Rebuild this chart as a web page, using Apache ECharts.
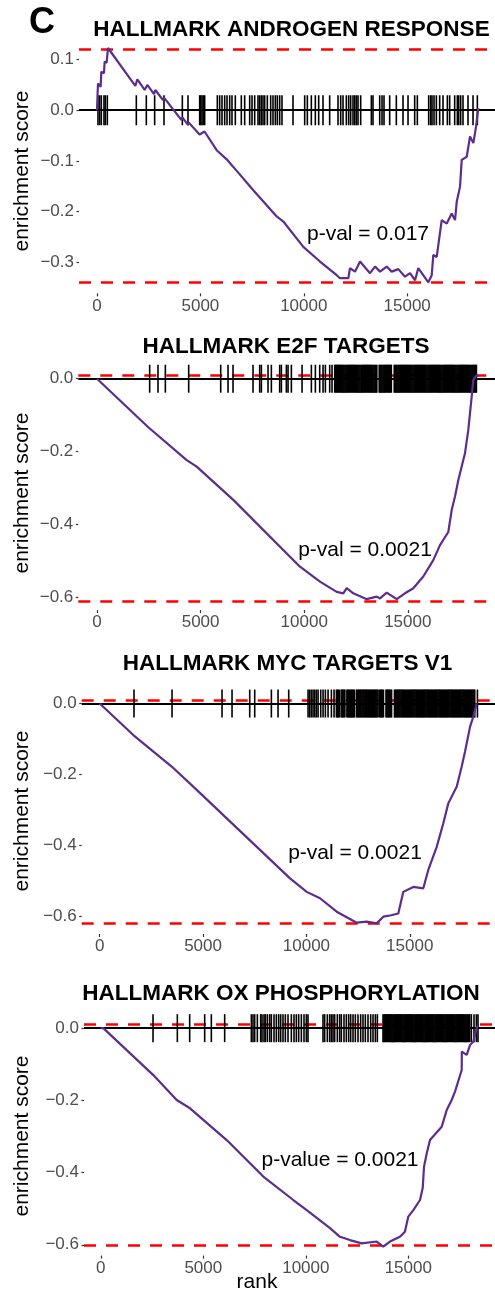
<!DOCTYPE html>
<html>
<head>
<meta charset="utf-8">
<script src="https://cdn.jsdelivr.net/npm/echarts@6/dist/echarts.min.js"></script>
<style>
html, body { margin: 0; padding: 0; background: #fff; }
#main { width: 495px; height: 1292px; }
</style>
</head>
<body>
<div id="main"></div>
<script>
// GSEA running enrichment plots, panel C
var setNames = ['HALLMARK ANDROGEN RESPONSE', 'HALLMARK E2F TARGETS', 'HALLMARK MYC TARGETS V1', 'HALLMARK OX PHOSPHORYLATION'];
var pvalTexts = ['p-val = 0.017', 'p-val = 0.0021', 'p-val = 0.0021', 'p-value = 0.0021'];
var rankTicks = [0, 5000, 10000, 15000];
var esTicksTop = [0.1, 0, -0.1, -0.2, -0.3];
var esTicks = [0, -0.2, -0.4, -0.6];

// gene hit ranks
var hitsAndrogen = [48, 129, 209, 338, 403, 500, 1902, 2385, 2788, 3240, 4127, 4401, 4965, 5013, 5078, 5142, 5207,
  5819, 5932, 6045, 6174, 6287, 6416, 6528, 6689, 6979, 7141, 7383, 7496, 7625, 7786, 7867, 7947, 8028, 8109, 8237,
  8398, 8511, 8624, 8721, 8834, 8946, 9478, 10043, 10172, 10365, 10558, 10720, 10929, 11251, 11655, 11784, 11897,
  12058, 12171, 12267, 12380, 12461, 12541, 12622, 12751, 13267, 13347, 13670, 13783, 13879, 14153, 14475, 14798,
  15040, 15362, 15491, 16039, 16136, 16200, 16297, 16410, 16571, 16732, 16942, 17054, 17296, 17425, 17490, 17586,
  17699, 17941, 18183, 18392];
var hitsE2F = [2542, 2944, 3299, 4425, 5970, 6324, 6565, 7530, 7852, 7933, 8254, 8415, 8817, 8898, 9139, 9220, 9381,
  9896, 10346, 10539, 10748, 10909, 11022, 11230, 11343,
  11472, 11515, 11561, 11604, 11652, 11690, 11741, 11788, 11830, 11879, 11921, 11967, 12012, 12060, 12101, 12149,
  12193, 12240, 12284, 12331, 12372, 12420, 12466, 12509, 12557, 12600, 12646, 12690, 12738, 12781, 12826, 12872,
  12917, 12963, 13006, 13052, 13098, 13141, 13188, 13232, 13279, 13322, 13369, 13413, 13458, 13505, 13620, 13664,
  13710, 13753, 13801, 13846, 13890, 13936, 13981, 14027, 14072, 14118, 14163, 14205, 14345, 14390, 14436, 14480,
  14527, 14571, 14617, 14660, 14707, 14751, 14798, 14842, 14888, 14933, 14979, 15023, 15069, 15114, 15160, 15203,
  15250, 15294, 15341, 15385, 15430, 15476, 15520, 15566, 15611, 15657, 15701, 15748, 15792, 15838, 15881, 15928,
  15972, 16019, 16063, 16108, 16154, 16198, 16245, 16289, 16334, 16380, 16424, 16470, 16515, 16561, 16605, 16651,
  16696, 16741, 16786, 16832, 16876, 16922, 16967, 17012, 17057, 17103, 17147, 17193, 17238, 17284, 17328, 17374,
  17418, 17464, 17509, 17555, 17600, 17645, 17690, 17736, 17780, 17826, 17871, 17916, 17961, 18007, 18052, 18097,
  18142, 18188, 18233, 18275, 18311];
var hitsMYC = [1660, 3499, 5918, 6402, 7257, 7499, 8305, 8628, 9144, 10080, 10160, 10241, 10322, 10403, 10483, 10564,
  10693, 10806, 10918, 11048, 11209, 11338,
  11451, 11497, 11540, 11588, 11680, 11725, 11771, 11815, 11862, 11960, 12004, 12050, 12093, 12140, 12186, 12230,
  12278, 12320, 12420, 12463, 12510, 12556, 12601, 12645, 12692, 12736, 12780, 12828, 12872, 12918, 12962, 13008,
  13052, 13098, 13143, 13188, 13235, 13280, 13325, 13370, 13418, 13467,
  13548, 13592, 13638, 13681, 13728, 13850, 13895, 13940, 13986, 14030, 14076, 14120, 14260, 14305, 14350, 14396,
  14440, 14486, 14530, 14576, 14620, 14665, 14710, 14756, 14802, 14846, 14892, 14936, 14982, 15026, 15072, 15117,
  15162, 15208, 15252, 15298, 15342, 15388, 15432, 15478, 15522, 15564,
  15608, 15652, 15697, 15742, 15786, 15831, 15876, 15920, 15965, 16010, 16054, 16099, 16144, 16188, 16233, 16278,
  16322, 16367, 16412, 16456, 16501, 16546, 16590, 16635, 16680, 16724, 16769, 16814, 16858, 16903, 16948, 16992,
  17037, 17082, 17126, 17171, 17216, 17260, 17305, 17350, 17394, 17439, 17484, 17528, 17573, 17618, 17662, 17707,
  17752, 17796, 17841, 17886, 17930, 17975, 18020, 18064, 18109, 18145, 18274];
var hitsOXPHOS = [2547, 3733, 4335, 5067, 5392, 6042, 7343, 7424, 7506, 7636, 7798, 7863, 7961, 8026, 8124, 8237,
  8319, 8449, 8563, 8677, 8774, 8888, 9002, 9132, 9294, 9424, 9538, 9652, 9782, 9912, 10026, 10107,
  10839, 10920, 11050, 11164, 11246, 11327, 11408, 11538, 11652, 11733, 11863, 11977, 12091, 12189, 12303, 12416,
  12546, 12676, 12790, 12904, 13034, 13164, 13278, 13392, 13490,
  13766, 13810, 13853, 13899, 13942, 13987, 14031, 14076, 14120, 14164, 14209, 14253, 14298, 14342, 14387, 14431,
  14476, 14520, 14565, 14609, 14654, 14698, 14743, 14787, 14832, 14876, 14921, 14965, 15010, 15054, 15099, 15143,
  15188, 15232, 15277, 15321, 15366, 15410, 15455, 15499, 15544, 15588, 15633, 15677, 15722, 15766, 15811, 15855,
  15900, 15944, 15989, 16033, 16078, 16122, 16167, 16211, 16256, 16300, 16345, 16389, 16434, 16478, 16523, 16567,
  16612, 16656, 16701, 16745, 16790, 16834, 16879, 16923, 16968, 17012, 17057, 17101, 17146, 17190, 17235, 17279,
  17324, 17368, 17413, 17457, 17502, 17546, 17591, 17635, 17680, 17724, 17769, 17813, 17858, 17902, 17947, 17994,
  18075, 18205, 18319, 18400];

// running enrichment score [rank, ES]
var esAndrogen = [[0, 0], [15, 0], [48, 0.053], [177, 0.046], [209, 0.076], [338, 0.073], [370, 0.096], [467, 0.094],
  [532, 0.123], [1853, 0.048], [1950, 0.061], [2305, 0.040], [2434, 0.050], [2756, 0.032], [2821, 0.040],
  [3192, 0.020], [3240, 0.025], [4078, -0.019], [4127, -0.014], [4401, -0.029], [4430, -0.024], [4960, -0.048],
  [5200, -0.042], [5788, -0.079], [6271, -0.097], [6592, -0.112], [7559, -0.158], [8690, -0.210], [9012, -0.220],
  [9977, -0.270], [10784, -0.299], [11592, -0.326], [11751, -0.332], [12153, -0.332], [12235, -0.312],
  [12477, -0.319], [12719, -0.299], [13202, -0.322], [13444, -0.309], [13686, -0.319], [14008, -0.309],
  [14251, -0.319], [14571, -0.314], [14895, -0.329], [15137, -0.322], [15379, -0.336], [15538, -0.312],
  [16022, -0.340], [16186, -0.326], [16263, -0.286], [16428, -0.290], [16670, -0.217], [16912, -0.224],
  [17153, -0.204], [17313, -0.217], [17395, -0.181], [17555, -0.151], [17636, -0.098], [17879, -0.092],
  [18038, -0.052], [18199, -0.065], [18328, -0.033], [18440, 0.004]];
var esE2F = [[0, 0], [63, 0], [2476, -0.133], [4329, -0.223], [4811, -0.241], [6578, -0.332], [9797, -0.515],
  [10762, -0.556], [11568, -0.584], [11886, -0.588], [12050, -0.574], [12369, -0.588], [13016, -0.604],
  [13498, -0.597], [13658, -0.602], [13981, -0.586], [14464, -0.604], [14864, -0.588], [15265, -0.574],
  [15747, -0.542], [16230, -0.497], [16553, -0.456], [16954, -0.420], [17118, -0.360], [17277, -0.323],
  [17436, -0.278], [17678, -0.223], [17760, -0.204], [17918, -0.141], [18083, -0.049], [18160, -0.004],
  [18320, 0.010], [18401, 0.006]];
var esMYC = [[0, 0], [15, 0], [1626, -0.089], [3483, -0.178], [4693, -0.244], [9207, -0.494], [10015, -0.532],
  [10659, -0.550], [11466, -0.588], [12434, -0.619], [12917, -0.616], [13401, -0.621], [13720, -0.602],
  [14100, -0.598], [14446, -0.593], [14688, -0.532], [15172, -0.518], [15655, -0.522], [15897, -0.470],
  [16304, -0.405], [16623, -0.338], [16865, -0.282], [17189, -0.244], [17271, -0.235], [17513, -0.178],
  [17673, -0.136], [17915, -0.066], [18075, -0.037], [18239, 0.001]];
var esOXPHOS = [[0, 0], [122, 0], [2561, -0.130], [3702, -0.199], [4351, -0.222], [6141, -0.310], [7927, -0.411],
  [9390, -0.476], [10044, -0.504], [11180, -0.554], [11668, -0.578], [12156, -0.587], [12727, -0.596],
  [13459, -0.591], [13780, -0.605], [14107, -0.591], [14591, -0.578], [14835, -0.564], [15000, -0.522],
  [15244, -0.504], [15571, -0.476], [15702, -0.443], [15766, -0.384], [15898, -0.347], [16058, -0.310],
  [16629, -0.273], [16873, -0.227], [17117, -0.199], [17278, -0.176], [17605, -0.116], [17610, -0.065],
  [17849, -0.074], [18009, -0.047], [18171, -0.037], [18366, 0.006]];

// max / min ES (red dashed lines)
var peakAndrogen = [0.124, -0.342];
var peakE2F = [0.015, -0.606];
var peakMYC = [0.007, -0.621];
var peakOXPHOS = [0.006, -0.605];

var fontFam = '"Liberation Sans", Arial, Helvetica, sans-serif';

var panels = [
  {hits: hitsAndrogen, es: esAndrogen, peak: peakAndrogen, yTicks: esTicksTop, hitH: 30,
    left: 79, top: 39.4, height: 254, xMin: -870, xMax: 19246, yMin: -0.362, yMax: 0.14,
    titleX: 291.5, titleY: 30, pX: 368, pY: 234, yTitleY: 171},
  {hits: hitsE2F, es: esE2F, peak: peakE2F, yTicks: esTicks, hitH: 28,
    left: 78.3, top: 356.8, height: 253.3, xMin: -902, xMax: 19208, yMin: -0.634, yMax: 0.06,
    titleX: 286, titleY: 346.7, pX: 365, pY: 550.3, yTitleY: 493},
  {hits: hitsMYC, es: esMYC, peak: peakMYC, yTicks: esTicks, hitH: 28,
    left: 81.7, top: 682.3, height: 251.7, xMin: -871, xMax: 19124, yMin: -0.651, yMax: 0.06,
    titleX: 287.5, titleY: 663.3, pX: 355, pY: 853.7, yTitleY: 811},
  {hits: hitsOXPHOS, es: esOXPHOS, peak: peakOXPHOS, yTicks: esTicks, hitH: 28,
    left: 84, top: 1006.5, height: 249.1, xMin: -820, xMax: 19229, yMin: -0.63, yMax: 0.06,
    titleX: 281, titleY: 993.3, pX: 340, pY: 1160, yTitleY: 1136}
];

function esLabel(v) {
  if (Math.abs(v) < 1e-9) return '0.0';
  return (v < 0 ? '\u2212' : '') + Math.abs(v).toFixed(1);
}

function txt(x, y, text, size, weight, color, rot) {
  return {
    type: 'text', x: x, y: y, rotation: rot || 0, silent: true,
    style: {
      text: text, fontSize: size, fontWeight: weight, fontFamily: fontFam, fill: color,
      align: 'center', verticalAlign: 'middle', textAlign: 'center', textVerticalAlign: 'middle'
    }
  };
}

var grids = [], xAxes = [], yAxes = [], series = [], graphics = [];
graphics.push(txt(42, 23.5, 'C', 36, 'bold', '#000'));

panels.forEach(function (p, i) {
  grids.push({left: p.left, right: 0, top: p.top, height: p.height});
  xAxes.push({
    type: 'value', gridIndex: i, min: p.xMin, max: p.xMax,
    axisLine: {show: false, onZero: false}, splitLine: {show: false},
    axisTick: {show: true, length: 3, customValues: rankTicks, lineStyle: {color: '#333', width: 1.2}},
    axisLabel: {customValues: rankTicks, color: '#4D4D4D', fontSize: 17, fontFamily: fontFam, margin: 4,
      formatter: function (v) { return String(v); }}
  });
  yAxes.push({
    type: 'value', gridIndex: i, min: p.yMin, max: p.yMax,
    axisLine: {show: false, onZero: false}, splitLine: {show: false},
    axisTick: {show: true, length: 2.5, customValues: p.yTicks, lineStyle: {color: '#333', width: 1.2}},
    axisLabel: {customValues: p.yTicks, color: '#4D4D4D', fontSize: 17, fontFamily: fontFam, margin: 5,
      formatter: esLabel}
  });
  // barcode of hits, red max/min lines underneath
  series.push({
    type: 'scatter', xAxisIndex: i, yAxisIndex: i, z: 3, silent: true,
    symbol: 'rect', symbolSize: [1.6, p.hitH],
    itemStyle: {color: '#000', opacity: 1},
    data: p.hits.map(function (r) { return [r, 0]; }),
    markLine: {
      silent: true, symbol: 'none', z: 1, label: {show: false},
      lineStyle: {color: '#FF0000', type: [12, 10], width: 2.5},
      data: [{yAxis: p.peak[0]}, {yAxis: p.peak[1]}]
    }
  });
  // running ES curve plus the zero line
  series.push({
    type: 'line', xAxisIndex: i, yAxisIndex: i, z: 4, silent: true,
    showSymbol: false, symbol: 'none',
    lineStyle: {color: '#5C2D8C', width: 2.2},
    data: p.es,
    markLine: {
      silent: true, symbol: 'none', z: 2, label: {show: false},
      lineStyle: {color: '#000', type: 'solid', width: 2},
      data: [{yAxis: 0}]
    }
  });

  graphics.push(txt(p.titleX, p.titleY, setNames[i], 22.5, 'bold', '#000'));
  graphics.push(txt(p.pX, p.pY, pvalTexts[i], 21, 'normal', '#000'));
  graphics.push(txt(22.5, p.yTitleY, 'enrichment score', 21, 'normal', '#000', Math.PI / 2));
});

graphics.push(txt(257, 1282.5, 'rank', 21, 'normal', '#000'));

var chart = echarts.init(document.getElementById('main'), null, {renderer: 'canvas'});
chart.setOption({
  animation: false,
  backgroundColor: '#fff',
  grid: grids,
  xAxis: xAxes,
  yAxis: yAxes,
  series: series,
  graphic: {elements: graphics}
});
</script>
</body>
</html>
